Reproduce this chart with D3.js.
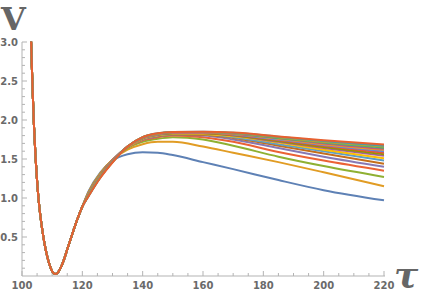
<!DOCTYPE html>
<html>
<head>
<meta charset="utf-8">
<script src="https://cdn.jsdelivr.net/npm/d3@7"></script>
<style>
  body { margin: 0; background: #fff; }
  svg { display: block; }
  .tick-label { font-family: "DejaVu Sans", sans-serif; font-size: 10px; font-weight: bold; fill: #6a6a6a; }
  .axis-title { font-family: "DejaVu Serif", "Liberation Serif", serif; font-weight: bold; fill: #666; }
</style>
</head>
<body>
<div id="chart"></div>
<script>
// shared steep wall and well (same for every curve)
var wallTau = [103, 103.5, 104, 104.5, 105, 105.5, 106, 107, 108, 109, 110, 111, 112, 113, 114, 115, 116, 118, 120];
var wallV   = [3.02, 2.40, 1.90, 1.52, 1.22, 0.98, 0.80, 0.52, 0.31, 0.16, 0.06, 0.025, 0.05, 0.12, 0.22, 0.34, 0.46, 0.69, 0.89];

// hump and tail, one row per curve
var tailTau = [122, 126, 130, 135, 140, 145, 150, 160, 170, 185, 200, 220];
var tails = [
  [1.08, 1.33, 1.48, 1.56, 1.585, 1.58, 1.55, 1.46, 1.37, 1.23, 1.10, 0.97],
  [1.07, 1.32, 1.49, 1.62, 1.69, 1.72, 1.72, 1.66, 1.58, 1.46, 1.33, 1.15],
  [1.065, 1.31, 1.49, 1.64, 1.72, 1.76, 1.78, 1.75, 1.67, 1.53, 1.41, 1.27],
  [1.06, 1.305, 1.49, 1.65, 1.74, 1.78, 1.80, 1.78, 1.72, 1.59, 1.48, 1.35],
  [1.055, 1.30, 1.485, 1.655, 1.75, 1.79, 1.81, 1.80, 1.75, 1.64, 1.53, 1.40],
  [1.05, 1.295, 1.48, 1.655, 1.755, 1.795, 1.815, 1.81, 1.77, 1.67, 1.57, 1.44],
  [1.05, 1.29, 1.48, 1.655, 1.76, 1.80, 1.82, 1.82, 1.78, 1.69, 1.60, 1.48],
  [1.045, 1.29, 1.475, 1.655, 1.76, 1.805, 1.825, 1.82, 1.79, 1.71, 1.62, 1.51],
  [1.04, 1.285, 1.475, 1.66, 1.765, 1.81, 1.83, 1.83, 1.80, 1.72, 1.64, 1.54],
  [1.04, 1.285, 1.47, 1.66, 1.765, 1.81, 1.83, 1.83, 1.805, 1.73, 1.655, 1.56],
  [1.035, 1.28, 1.47, 1.66, 1.77, 1.815, 1.835, 1.835, 1.81, 1.74, 1.67, 1.58],
  [1.035, 1.28, 1.47, 1.66, 1.77, 1.815, 1.835, 1.835, 1.815, 1.75, 1.68, 1.60],
  [1.03, 1.275, 1.465, 1.66, 1.775, 1.82, 1.84, 1.84, 1.82, 1.76, 1.69, 1.62],
  [1.03, 1.275, 1.465, 1.66, 1.775, 1.82, 1.84, 1.84, 1.825, 1.765, 1.70, 1.63],
  [1.025, 1.27, 1.46, 1.66, 1.78, 1.825, 1.845, 1.845, 1.83, 1.77, 1.71, 1.645],
  [1.025, 1.27, 1.46, 1.66, 1.78, 1.825, 1.845, 1.845, 1.83, 1.78, 1.72, 1.66],
  [1.02, 1.265, 1.46, 1.66, 1.78, 1.83, 1.845, 1.85, 1.835, 1.785, 1.73, 1.67],
  [1.02, 1.26, 1.455, 1.66, 1.78, 1.83, 1.845, 1.85, 1.84, 1.79, 1.74, 1.685]
];
var colors = ["#5E81B5", "#E19C24", "#8FB032", "#EB6235", "#8778B3", "#C56E1A",
              "#5D9EC7", "#FFBF00", "#A5609D", "#929600", "#E95536", "#6685D9",
              "#F89F13", "#BC5B80", "#47B66D", "#C9A227", "#4E9AA8", "#E8602F"];

var xTicks = [100, 120, 140, 160, 180, 200, 220];
var yTicks = [0.5, 1.0, 1.5, 2.0, 2.5, 3.0];

var width = 425, height = 297;
var x = d3.scaleLinear().domain([100, 220]).range([22, 384]);
var y = d3.scaleLinear().domain([0, 3]).range([276, 42]);

var svg = d3.select("#chart").append("svg")
  .attr("width", width)
  .attr("height", height);

svg.append("clipPath").attr("id", "plot-clip")
  .append("rect")
  .attr("x", x(100)).attr("y", y(3) - 0.5)
  .attr("width", x(220) - x(100) + 2).attr("height", y(0) - y(3) + 4);

// axes
var axisColor = "#b3b3b3";
svg.append("line")
  .attr("x1", x(100)).attr("x2", x(220) + 1)
  .attr("y1", y(0)).attr("y2", y(0))
  .attr("stroke", axisColor).attr("stroke-width", 1);
svg.append("line")
  .attr("x1", x(100)).attr("x2", x(100))
  .attr("y1", y(0)).attr("y2", y(3))
  .attr("stroke", axisColor).attr("stroke-width", 1);

// x ticks, pointing into the plot
d3.range(100, 221, 5).forEach(function(t) {
  var major = (t % 20 === 0);
  svg.append("line")
    .attr("x1", x(t)).attr("x2", x(t))
    .attr("y1", y(0)).attr("y2", y(0) - (major ? 5 : 3))
    .attr("stroke", axisColor).attr("stroke-width", 1);
});
svg.selectAll(".xlab").data(xTicks).enter().append("text")
  .attr("class", "tick-label")
  .attr("x", function(d) { return x(d); })
  .attr("y", y(0) + 13)
  .attr("text-anchor", "middle")
  .text(function(d) { return d; });

// y ticks
d3.range(1, 31).forEach(function(i) {
  var v = i / 10;
  var major = (i % 5 === 0);
  svg.append("line")
    .attr("x1", x(100)).attr("x2", x(100) + (major ? 5 : 3))
    .attr("y1", y(v)).attr("y2", y(v))
    .attr("stroke", axisColor).attr("stroke-width", 1);
});
svg.selectAll(".ylab").data(yTicks).enter().append("text")
  .attr("class", "tick-label")
  .attr("x", x(100) - 4)
  .attr("y", function(d) { return y(d) + 3.5; })
  .attr("text-anchor", "end")
  .text(function(d) { return d.toFixed(1); });

// curves
var line = d3.line()
  .x(function(d) { return x(d[0]); })
  .y(function(d) { return y(d[1]); })
  .curve(d3.curveMonotoneX);

var curves = tails.map(function(row) {
  var pts = wallTau.map(function(t, i) { return [t, wallV[i]]; });
  return pts.concat(tailTau.map(function(t, i) { return [t, row[i]]; }));
});

svg.append("g").attr("clip-path", "url(#plot-clip)")
  .selectAll("path").data(curves).enter().append("path")
  .attr("d", line)
  .attr("fill", "none")
  .attr("stroke", function(d, i) { return colors[i % colors.length]; })
  .attr("stroke-width", 2);

// axis titles
svg.append("text").attr("class", "axis-title")
  .attr("x", 1).attr("y", 30)
  .style("font-size", "32px")
  .text("V");
svg.append("text").attr("class", "axis-title")
  .attr("x", 394).attr("y", 287)
  .style("font-size", "36px")
  .style("font-style", "italic")
  .text("τ");
</script>
</body>
</html>
